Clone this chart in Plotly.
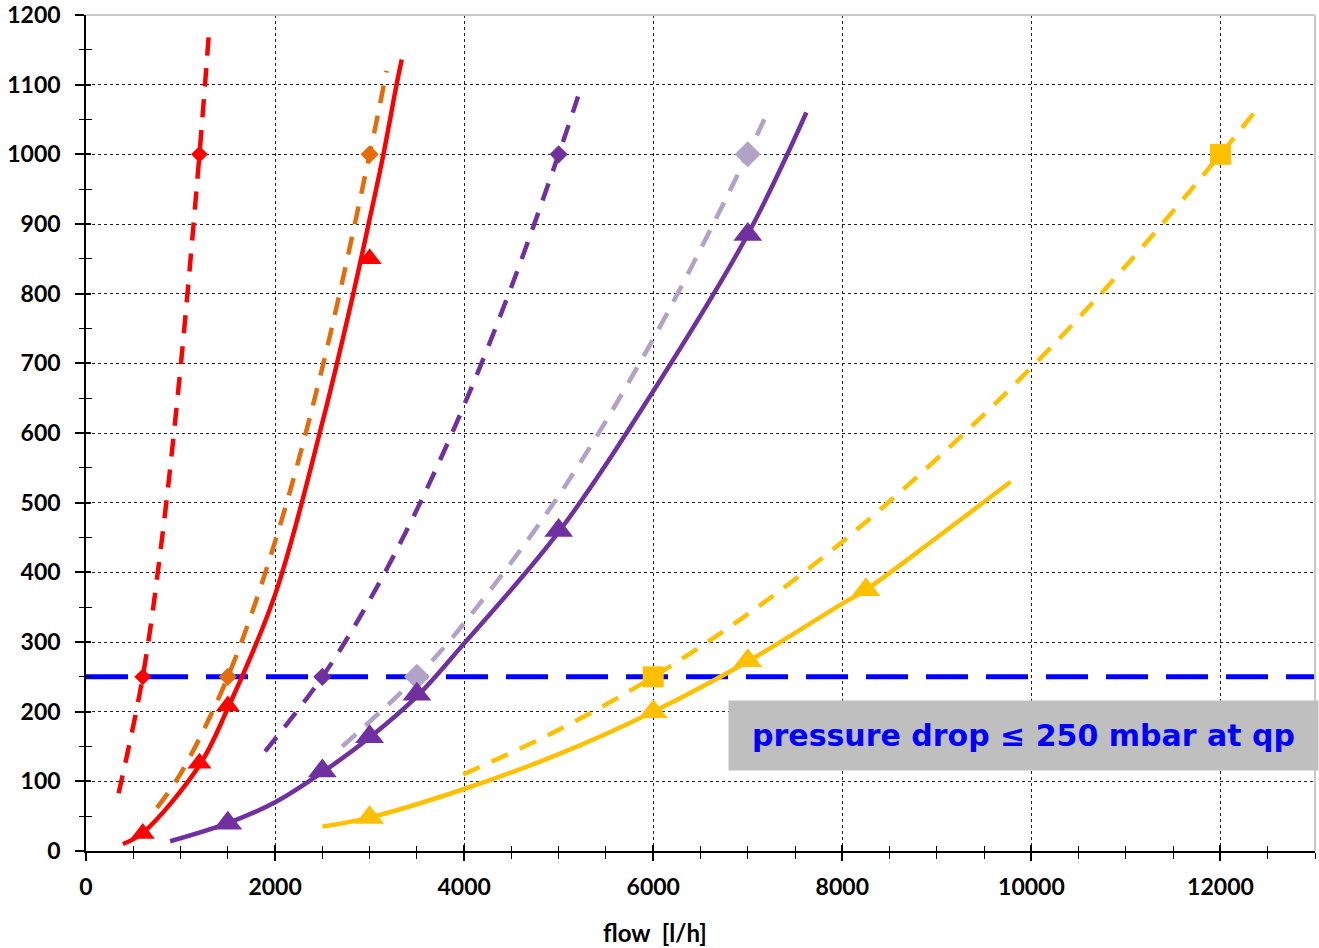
import plotly.graph_objects as go

# ---- curve data (flow l/h, pressure drop mbar) ----
red_dash_x = [345, 600, 800, 1000, 1200, 1300]
red_dash_y = [83, 250, 444, 694, 1000, 1174]
orange_dash_x = [750, 1000, 1500, 2000, 2500, 3000, 3180]
orange_dash_y = [62, 111, 250, 444, 694, 1000, 1120]
red_solid_x = [390, 600, 1200, 1500, 2000, 2500, 2827, 2989, 3146, 3285, 3340]
red_solid_y = [10, 26, 123, 205, 368, 615, 800, 900, 1000, 1100, 1136]
purple_dash_x = [1895, 2500, 3000, 3500, 4000, 4500, 5000, 5205]
purple_dash_y = [143, 250, 360, 490, 640, 810, 1000, 1083]
lav_dash_x = [2710, 3500, 4000, 5000, 6000, 7000, 7215]
lav_dash_y = [150, 250, 327, 510, 735, 1000, 1062]
purple_solid_x = [890, 1500, 2000, 2500, 3000, 3500, 4000, 5000, 6000, 7000, 7620]
purple_solid_y = [14, 40, 70, 113, 163, 222, 298, 458, 660, 885, 1060]
yellow_dash_x = [3990, 5000, 6000, 7000, 8000, 9000, 10000, 11000, 12000, 12380]
yellow_dash_y = [110, 174, 250, 340, 444, 563, 694, 840, 1000, 1064]
yellow_solid_x = [2500, 3000, 4000, 5000, 6000, 7000, 8000, 8250, 9000, 9780]
yellow_solid_y = [35, 48, 89, 139, 200, 272, 355, 375, 450, 530]

# ---- marker data ----
red_dia_x, red_dia_y = [600, 1200], [250, 1000]
orange_dia_x, orange_dia_y = [1500, 3000], [250, 1000]
purple_dia_x, purple_dia_y = [2500, 5000], [250, 1000]
lav_dia_x, lav_dia_y = [3500, 7000], [250, 1000]
yellow_sq_x, yellow_sq_y = [6000, 12000], [250, 1000]
red_tri_x, red_tri_y = [600, 1200, 1500, 3000], [25, 126, 208, 850]
purple_tri_x, purple_tri_y = [1500, 2500, 3000, 3500, 5000, 7000], [40, 115, 164, 225, 460, 885]
yellow_tri_x, yellow_tri_y = [3000, 6000, 7000, 8250], [48, 200, 273, 375]

limit_x = [0, 13000]
limit_y = [250, 250]

x_title = "flow  [l/h]"
note_text = "pressure drop ≤ 250 mbar at qp"

RED = "#FF0000"
ORANGE = "#E46C0A"
PURPLE = "#7030A0"
LAV = "#B3A2C7"
YELLOW = "#FFC000"
BLUE = "#0000FF"

DASH = "18px,13px"
FONT = "Lato, 'Open Sans', sans-serif"

fig = go.Figure()


def line(x, y, color, width, dash=None):
    fig.add_trace(go.Scatter(x=x, y=y, mode="lines", line_shape="spline",
                             line=dict(color=color, width=width, dash=dash),
                             showlegend=False, hoverinfo="skip"))


def marks(x, y, color, symbol, size):
    fig.add_trace(go.Scatter(x=x, y=y, mode="markers",
                             marker=dict(color=color, symbol=symbol, size=size,
                                         line=dict(width=0)),
                             showlegend=False))


# blue limit line
fig.add_trace(go.Scatter(x=limit_x, y=limit_y, mode="lines",
                         line=dict(color=BLUE, width=5, dash="42px,18px"),
                         showlegend=False, hoverinfo="skip"))

line(yellow_dash_x, yellow_dash_y, YELLOW, 4.5, DASH)
line(yellow_solid_x, yellow_solid_y, YELLOW, 4.5)
line(lav_dash_x, lav_dash_y, LAV, 4.5, DASH)
line(purple_solid_x, purple_solid_y, PURPLE, 4.5)
line(purple_dash_x, purple_dash_y, PURPLE, 4.5, DASH)
line(orange_dash_x, orange_dash_y, ORANGE, 4.5, DASH)
line(red_solid_x, red_solid_y, RED, 4.5)
line(red_dash_x, red_dash_y, RED, 4.5, DASH)

marks(yellow_sq_x, yellow_sq_y, YELLOW, "square", 21)
marks(yellow_tri_x, yellow_tri_y, YELLOW, "triangle-up", 25)
marks(lav_dia_x, lav_dia_y, LAV, "diamond", 20)
marks(purple_tri_x, purple_tri_y, PURPLE, "triangle-up", 25)
marks(purple_dia_x, purple_dia_y, PURPLE, "diamond", 14)
marks(orange_dia_x, orange_dia_y, ORANGE, "diamond", 14)
marks(red_tri_x, red_tri_y, RED, "triangle-up", 21)
marks(red_dia_x, red_dia_y, RED, "diamond", 13)

# dummy trace for the overlay axes (inside ticks)
fig.add_trace(go.Scatter(x=[None], y=[None], xaxis="x2", yaxis="y2",
                         showlegend=False, hoverinfo="skip"))

tickfont = dict(family=FONT, size=23, color="black", weight="bold")

fig.update_layout(
    width=1319, height=948,
    margin=dict(l=86, r=4, t=15, b=97),
    paper_bgcolor="white", plot_bgcolor="white",
    showlegend=False,
    xaxis=dict(range=[0, 13000], tick0=0, dtick=2000, tickformat="d",
               ticks="outside", ticklen=8, automargin=False,
               tickwidth=1.5, tickcolor="black", showline=True, linecolor="black",
               linewidth=1.5, showgrid=True, gridcolor="#222", griddash="dot",
               gridwidth=1, zeroline=False, tickfont=tickfont,
               ticklabelstandoff=7,
               minor=dict(dtick=500, ticks="outside", ticklen=6, tickwidth=1,
                          tickcolor="black", showgrid=False)),
    yaxis=dict(range=[0, 1200], tick0=0, dtick=100, tickformat="d",
               ticks="outside", ticklen=9, automargin=False,
               tickwidth=1.5, tickcolor="black", showline=True, linecolor="black",
               linewidth=1.5, showgrid=True, gridcolor="#222", griddash="dot",
               gridwidth=1, zeroline=False, tickfont=tickfont,
               ticklabelstandoff=10,
               minor=dict(dtick=50, ticks="outside", ticklen=5, tickwidth=1,
                          tickcolor="black", showgrid=False)),
    xaxis2=dict(overlaying="x", anchor="y", range=[0, 13000], tick0=0, dtick=2000,
                ticks="inside", ticklen=6, tickwidth=1.5, tickcolor="black",
                showticklabels=False, showgrid=False, zeroline=False,
                showline=False, automargin=False,
                minor=dict(dtick=500, ticks="inside", ticklen=5, tickwidth=1,
                           tickcolor="black", showgrid=False)),
    yaxis2=dict(overlaying="y", anchor="x", range=[0, 1200], tick0=0, dtick=100,
                ticks="inside", ticklen=5, tickwidth=1.5, tickcolor="black",
                showticklabels=False, showgrid=False, zeroline=False,
                showline=False, automargin=False,
                minor=dict(dtick=50, ticks="inside", ticklen=6, tickwidth=1,
                           tickcolor="black", showgrid=False)),
    shapes=[
        dict(type="line", xref="paper", yref="paper", x0=0, x1=1, y0=1, y1=1,
             line=dict(color="#C8C8C8", width=2)),
        dict(type="line", xref="paper", yref="paper", x0=1, x1=1, y0=0, y1=1,
             line=dict(color="#C8C8C8", width=2)),
    ],
    annotations=[
        dict(x=9921, y=166, xref="x", yref="y", showarrow=False,
             text="<b>" + note_text + "</b>", width=589, height=69,
             bgcolor="#BFBFBF", borderpad=0,
             font=dict(family="DejaVu Sans", size=30, color=BLUE)),
        dict(x=0.463, y=0, xref="paper", yref="paper", yshift=-81,
             xanchor="center", yanchor="middle", showarrow=False,
             text=x_title,
             font=dict(family=FONT, size=24, color="black", weight="bold")),
    ],
)

fig.write_html("out.html",
               config={"displayModeBar": False},
               post_script="document.body.style.margin='0';"
                           "document.body.style.overflow='hidden';")
